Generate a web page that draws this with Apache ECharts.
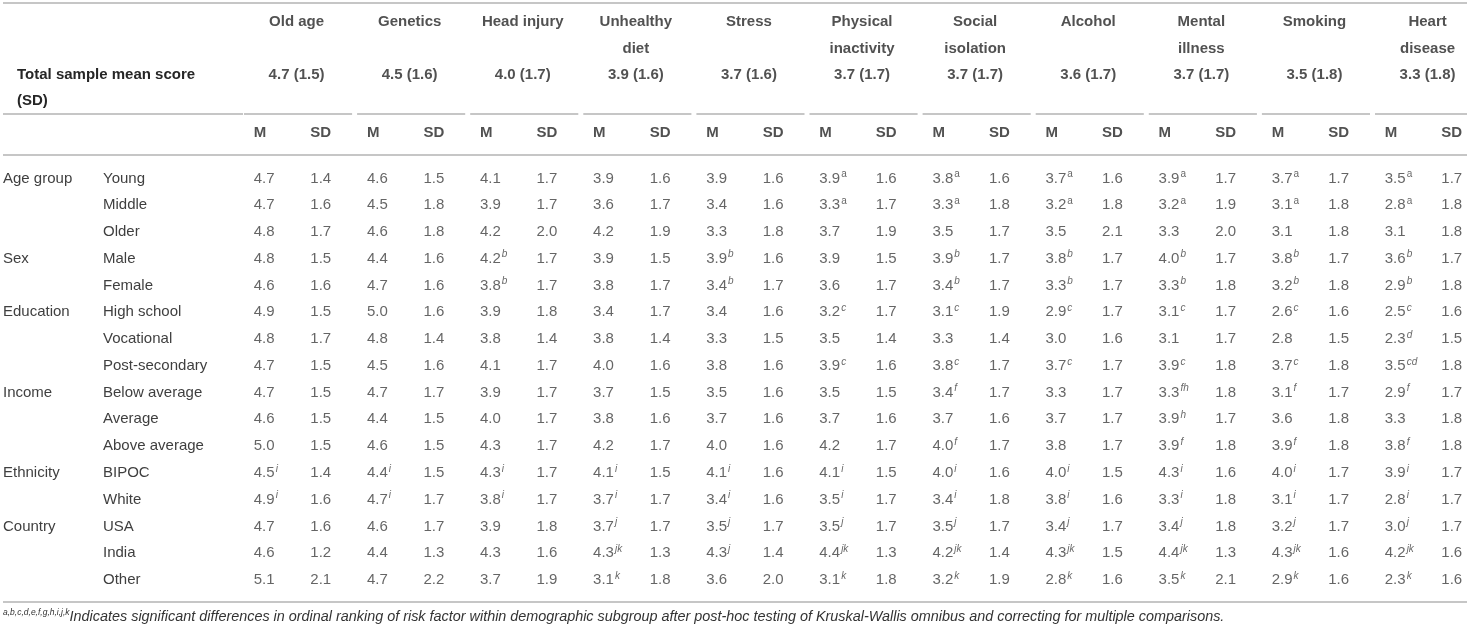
<!DOCTYPE html>
<html><head><meta charset="utf-8">
<script src="https://cdn.jsdelivr.net/npm/echarts@6/dist/echarts.min.js"></script>
<style>html,body{margin:0;padding:0;background:#fff}#chart{width:1471px;height:631px}</style>
</head><body><div id="chart"></div>
<script>
// ---------------- DATA ----------------
const factors = ['Old age','Genetics','Head injury','Unhealthy diet','Stress','Physical inactivity','Social isolation','Alcohol','Mental illness','Smoking','Heart disease'];
const factorHeaders = ['Old age','Genetics','Head injury','Unhealthy\ndiet','Stress','Physical\ninactivity','Social\nisolation','Alcohol','Mental\nillness','Smoking','Heart\ndisease'];
const totalMean = [4.7,4.5,4.0,3.9,3.7,3.7,3.7,3.6,3.7,3.5,3.3];
const totalSD   = [1.5,1.6,1.7,1.6,1.6,1.7,1.7,1.7,1.7,1.8,1.8];
const totalLabel = ['Total sample mean score','(SD)'];
const subColumns = ['M','SD'];
const groupNames = ['Age group','Sex','Education','Income','Ethnicity','Country'];
const groupSizes = [3,2,3,3,2,3];
const subgroups = ['Young','Middle','Older','Male','Female','High school','Vocational','Post-secondary','Below average','Average','Above average','BIPOC','White','USA','India','Other'];
const means = [
  [4.7,4.6,4.1,3.9,3.9,3.9,3.8,3.7,3.9,3.7,3.5],
  [4.7,4.5,3.9,3.6,3.4,3.3,3.3,3.2,3.2,3.1,2.8],
  [4.8,4.6,4.2,4.2,3.3,3.7,3.5,3.5,3.3,3.1,3.1],
  [4.8,4.4,4.2,3.9,3.9,3.9,3.9,3.8,4.0,3.8,3.6],
  [4.6,4.7,3.8,3.8,3.4,3.6,3.4,3.3,3.3,3.2,2.9],
  [4.9,5.0,3.9,3.4,3.4,3.2,3.1,2.9,3.1,2.6,2.5],
  [4.8,4.8,3.8,3.8,3.3,3.5,3.3,3.0,3.1,2.8,2.3],
  [4.7,4.5,4.1,4.0,3.8,3.9,3.8,3.7,3.9,3.7,3.5],
  [4.7,4.7,3.9,3.7,3.5,3.5,3.4,3.3,3.3,3.1,2.9],
  [4.6,4.4,4.0,3.8,3.7,3.7,3.7,3.7,3.9,3.6,3.3],
  [5.0,4.6,4.3,4.2,4.0,4.2,4.0,3.8,3.9,3.9,3.8],
  [4.5,4.4,4.3,4.1,4.1,4.1,4.0,4.0,4.3,4.0,3.9],
  [4.9,4.7,3.8,3.7,3.4,3.5,3.4,3.8,3.3,3.1,2.8],
  [4.7,4.6,3.9,3.7,3.5,3.5,3.5,3.4,3.4,3.2,3.0],
  [4.6,4.4,4.3,4.3,4.3,4.4,4.2,4.3,4.4,4.3,4.2],
  [5.1,4.7,3.7,3.1,3.6,3.1,3.2,2.8,3.5,2.9,2.3]
];
const sds = [
  [1.4,1.5,1.7,1.6,1.6,1.6,1.6,1.6,1.7,1.7,1.7],
  [1.6,1.8,1.7,1.7,1.6,1.7,1.8,1.8,1.9,1.8,1.8],
  [1.7,1.8,2.0,1.9,1.8,1.9,1.7,2.1,2.0,1.8,1.8],
  [1.5,1.6,1.7,1.5,1.6,1.5,1.7,1.7,1.7,1.7,1.7],
  [1.6,1.6,1.7,1.7,1.7,1.7,1.7,1.7,1.8,1.8,1.8],
  [1.5,1.6,1.8,1.7,1.6,1.7,1.9,1.7,1.7,1.6,1.6],
  [1.7,1.4,1.4,1.4,1.5,1.4,1.4,1.6,1.7,1.5,1.5],
  [1.5,1.6,1.7,1.6,1.6,1.6,1.7,1.7,1.8,1.8,1.8],
  [1.5,1.7,1.7,1.5,1.6,1.5,1.7,1.7,1.8,1.7,1.7],
  [1.5,1.5,1.7,1.6,1.6,1.6,1.6,1.7,1.7,1.8,1.8],
  [1.5,1.5,1.7,1.7,1.6,1.7,1.7,1.7,1.8,1.8,1.8],
  [1.4,1.5,1.7,1.5,1.6,1.5,1.6,1.5,1.6,1.7,1.7],
  [1.6,1.7,1.7,1.7,1.6,1.7,1.8,1.6,1.8,1.7,1.7],
  [1.6,1.7,1.8,1.7,1.7,1.7,1.7,1.7,1.8,1.7,1.7],
  [1.2,1.3,1.6,1.3,1.4,1.3,1.4,1.5,1.3,1.6,1.6],
  [2.1,2.2,1.9,1.8,2.0,1.8,1.9,1.6,2.1,1.6,1.6]
];
const sups = [
  ['','','','','','a','a','a','a','a','a'],
  ['','','','','','a','a','a','a','a','a'],
  ['','','','','','','','','','',''],
  ['','','b','','b','','b','b','b','b','b'],
  ['','','b','','b','','b','b','b','b','b'],
  ['','','','','','c','c','c','c','c','c'],
  ['','','','','','','','','','','d'],
  ['','','','','','c','c','c','c','c','cd'],
  ['','','','','','','f','','fh','f','f'],
  ['','','','','','','','','h','',''],
  ['','','','','','','f','','f','f','f'],
  ['i','i','i','i','i','i','i','i','i','i','i'],
  ['i','i','i','i','i','i','i','i','i','i','i'],
  ['','','','j','j','j','j','j','j','j','j'],
  ['','','','jk','j','jk','jk','jk','jk','jk','jk'],
  ['','','','k','','k','k','k','k','k','k']
];
const footnoteMarks = 'a,b,c,d,e,f,g,h,i,j,k';
const footnoteText = 'Indicates significant differences in ordinal ranking of risk factor within demographic subgroup after post-hoc testing of Kruskal-Wallis omnibus and correcting for multiple comparisons.';

// ---------------- LAYOUT ----------------
const FONT = '"Liberation Sans", Arial, Helvetica, sans-serif';
const BODY = '#3f3f3f', HEAD = '#262626', RULE = '#c6c6c6';
const G = 240, CW = 56.55, NCOL = factors.length * 2, GW = CW * NCOL;
const OFF = -14.5;

const subCols = [];
factors.forEach(f => subColumns.forEach(s => subCols.push(f + '|' + s)));
const groupFirst = [];
groupNames.forEach((g, i) => { for (let k = 0; k < groupSizes[i]; k++) groupFirst.push(k === 0 ? g : ''); });
const headRows = ['name1','name2','total','totalsd'];

const nameData = factors.map((f, k) => ({ value: [k, 0], txt: factorHeaders[k] }));
const totalData = factors.map((f, k) => ({ value: [k, 2], txt: totalMean[k].toFixed(1) + ' (' + totalSD[k].toFixed(1) + ')' }));
const spanData = factors.map((f, k) => [k, 3]);
const msData = subCols.map((c, i) => ({ value: [i, 0], txt: subColumns[i % 2] }));
const bodyData = [];
subgroups.forEach((sg, r) => {
  factors.forEach((f, k) => {
    const s = sups[r][k];
    const sty = s === 'a' ? 'su' : 's';
    bodyData.push({ value: [2 * k, r], txt: means[r][k].toFixed(1) + (s ? '{' + sty + '|' + s + '}' : '') });
    bodyData.push({ value: [2 * k + 1, r], txt: sds[r][k].toFixed(1) });
  });
});

const chart = echarts.init(document.getElementById('chart'), null, { renderer: 'canvas' });
const hidden = { show: false };
const textSeries = (name, xi, yi, data, labelExtra) => ({
  type: 'scatter', name, xAxisIndex: xi, yAxisIndex: yi, data,
  symbolSize: 1, itemStyle: { color: 'rgba(0,0,0,0)' }, silent: true,
  label: Object.assign({ show: true, position: 'inside', formatter: p => p.data.txt, fontFamily: FONT }, labelExtra)
});
const gridBase = { left: G, width: GW, containLabel: false, outerBoundsMode: 'none' };

chart.setOption({
  animation: false,
  backgroundColor: '#fff',
  title: {
    left: 3, top: 608, padding: 0,
    text: '{s|' + footnoteMarks + '}{t|' + footnoteText + '}',
    textStyle: { fontWeight: 'normal', rich: {
      s: { fontSize: 8.5, fontStyle: 'italic', fontWeight: 'normal', color: '#333', fontFamily: FONT, verticalAlign: 'top', lineHeight: 18 },
      t: { fontSize: 14.4, fontStyle: 'italic', fontWeight: 'normal', color: '#333', fontFamily: FONT, lineHeight: 18 }
    } }
  },
  grid: [
    Object.assign({ top: 9, height: 105 }, gridBase),
    Object.assign({ top: 120, height: 26 }, gridBase),
    Object.assign({ top: 165, height: 428.3 }, gridBase)
  ],
  xAxis: [
    { gridIndex: 0, type: 'category', data: factors, show: false },
    { gridIndex: 1, type: 'category', data: subCols, show: false },
    { gridIndex: 2, type: 'category', data: subCols, show: false }
  ],
  yAxis: [
    { gridIndex: 0, type: 'category', data: headRows, inverse: true, position: 'left',
      axisLine: hidden, axisTick: hidden, splitLine: hidden,
      axisLabel: { align: 'left', margin: G - 17, fontFamily: FONT, fontSize: 15, fontWeight: 'bold', color: HEAD,
        formatter: (v, i) => i >= 2 ? totalLabel[i - 2] : '' } },
    { gridIndex: 1, type: 'category', data: ['ms'], show: false },
    { gridIndex: 2, type: 'category', data: subgroups, inverse: true, position: 'left',
      axisLine: hidden, axisTick: hidden, splitLine: hidden,
      axisLabel: { align: 'left', margin: G - 103, fontFamily: FONT, fontSize: 15, color: BODY } },
    { gridIndex: 2, type: 'category', data: subgroups, inverse: true, position: 'left', offset: 0,
      axisLine: hidden, axisTick: hidden, splitLine: hidden,
      axisLabel: { align: 'left', margin: G - 3, fontFamily: FONT, fontSize: 15, color: BODY,
        formatter: (v, i) => groupFirst[i] } }
  ],
  graphic: [
    { type: 'line', shape: { x1: 3, y1: 3, x2: 1467, y2: 3 }, style: { stroke: RULE, lineWidth: 2 }, silent: true },
    { type: 'line', shape: { x1: 3, y1: 114, x2: 243, y2: 114 }, style: { stroke: RULE, lineWidth: 2 }, silent: true },
    { type: 'line', shape: { x1: 3, y1: 155, x2: 1467, y2: 155 }, style: { stroke: RULE, lineWidth: 2 }, silent: true },
    { type: 'line', shape: { x1: 3, y1: 602, x2: 1467, y2: 602 }, style: { stroke: RULE, lineWidth: 2 }, silent: true }
  ],
  series: [
    textSeries('names', 0, 0, nameData, { align: 'center', verticalAlign: 'top', lineHeight: 26.3, offset: [0, -13.2], fontSize: 15, fontWeight: 'bold', color: HEAD }),
    textSeries('totals', 0, 0, totalData, { align: 'center', verticalAlign: 'middle', fontSize: 15, fontWeight: 'bold', color: HEAD }),
    {
      type: 'custom', name: 'spans', xAxisIndex: 0, yAxisIndex: 0, data: spanData, silent: true,
      renderItem: (params, api) => {
        const c = api.coord([api.value(0), api.value(1)]);
        const bw = api.size([1, 0])[0];
        const cs = params.coordSys;
        const y = cs.y + cs.height;
        const x1 = c[0] - bw / 2 + 4;
        const x2 = Math.min(c[0] + bw / 2 - 1, api.getWidth() - 4);
        return { type: 'line', shape: { x1, y1: y, x2, y2: y }, style: { stroke: RULE, lineWidth: 2 } };
      }
    },
    textSeries('msHeader', 1, 1, msData, { align: 'left', verticalAlign: 'middle', offset: [OFF, 0], fontSize: 15, fontWeight: 'bold', color: HEAD }),
    textSeries('body', 2, 2, bodyData, { align: 'left', verticalAlign: 'middle', offset: [OFF, 0], fontSize: 15, color: BODY,
      rich: {
        s: { fontSize: 10, fontStyle: 'italic', color: BODY, fontFamily: FONT, verticalAlign: 'top', lineHeight: 18, padding: [0, 0, 0, 1] },
        su: { fontSize: 10, color: BODY, fontFamily: FONT, verticalAlign: 'top', lineHeight: 18, padding: [0, 0, 0, 1] }
      } })
  ]
});
</script></body></html>
